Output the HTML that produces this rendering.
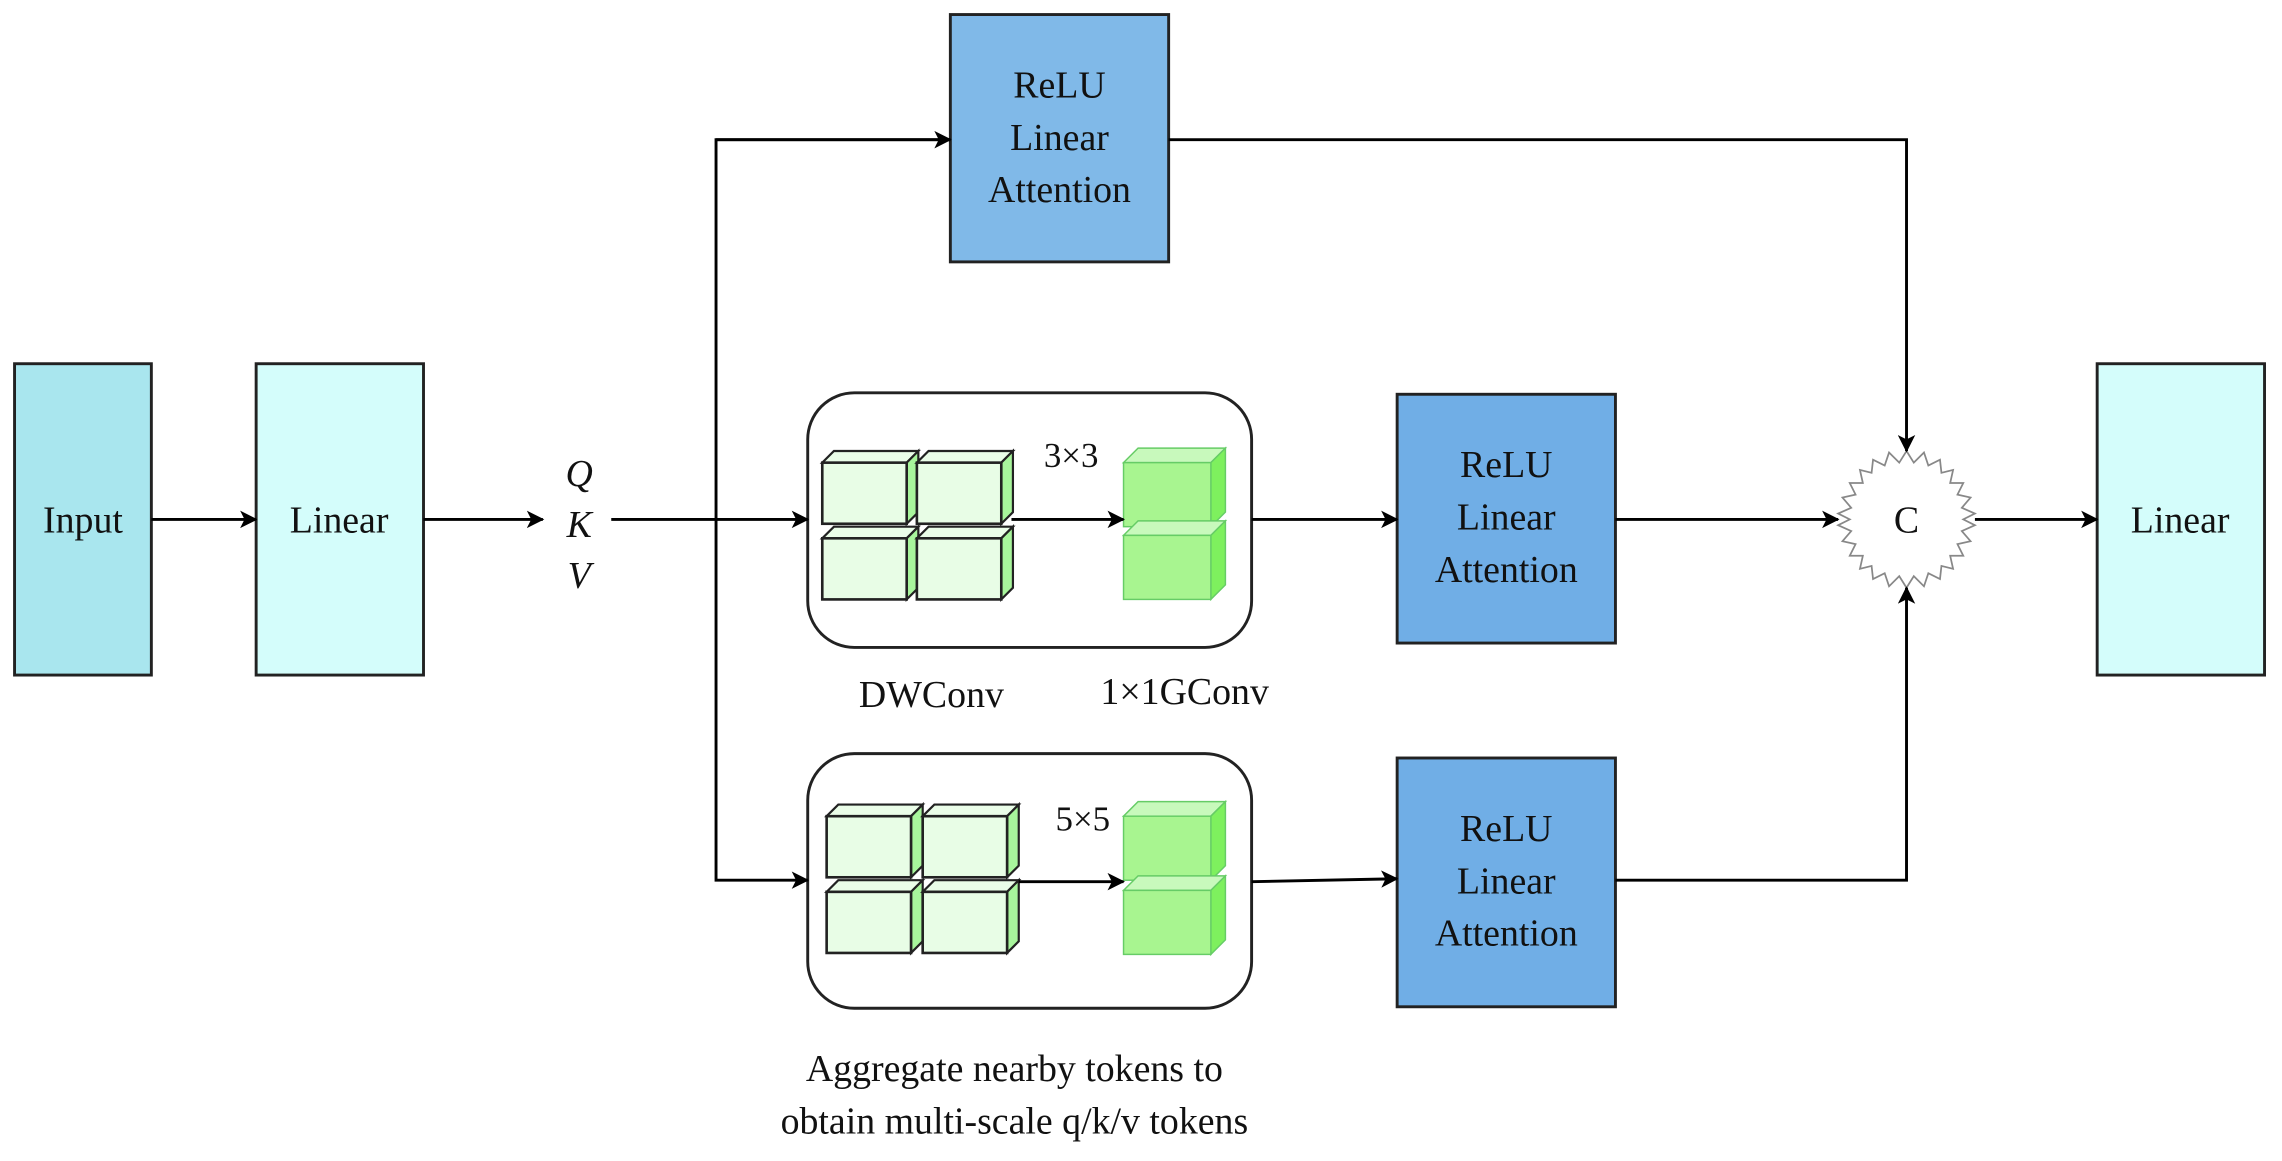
<!DOCTYPE html>
<html><head><meta charset="utf-8"><style>html,body{margin:0;padding:0;background:#fff}svg{display:block}</style></head>
<body>
<svg width="2282" height="1161" viewBox="0 0 1568 798" preserveAspectRatio="none" xmlns="http://www.w3.org/2000/svg" font-family="Liberation Serif, serif">
<defs>
<marker id="a" markerWidth="12" markerHeight="12" refX="11" refY="6" orient="auto" markerUnits="userSpaceOnUse"><path d="M0,0 L12,6 L0,12 L3,6 Z" fill="#000"/></marker>
<g id="lc">
<path d="M0,8 L8,0 L66,0 L58,8 Z" fill="#eafde8" stroke="#222" stroke-width="1.5"/>
<path d="M58,8 L66,0 L66,42 L58,50 Z" fill="#a8f59c" stroke="#222" stroke-width="1.5"/>
<rect x="0" y="8" width="58" height="42" fill="#e8fde6" stroke="#222" stroke-width="1.8"/>
</g>
<g id="gc">
<path d="M0,10 L10,0 L70,0 L60,10 Z" fill="#c8f9bc" stroke="#6c6" stroke-width="1"/>
<path d="M60,10 L70,0 L70,44 L60,54 Z" fill="#7ef05e" stroke="#6c6" stroke-width="1"/>
<rect x="0" y="10" width="60" height="44" fill="#a8f590" stroke="#6c6" stroke-width="1"/>
</g>
</defs>
<g stroke="#222" stroke-width="2">
<rect x="10" y="250" width="94" height="214" fill="#a9e6ee"/>
<rect x="176" y="250" width="115" height="214" fill="#d4fdfb"/>
<rect x="1441" y="250" width="115" height="214" fill="#d4fdfb"/>
<rect x="653" y="10" width="150" height="170" fill="#80b9e8"/>
<rect x="960" y="271" width="150" height="171" fill="#70aee6"/>
<rect x="960" y="521" width="150" height="171" fill="#70aee6"/>
<rect x="555" y="270" width="305" height="175" rx="32" fill="#fff"/>
<rect x="555" y="518" width="305" height="175" rx="32" fill="#fff"/>
</g>
<polygon fill="#fff" stroke="#888" stroke-width="1.2" points="
1310,310 1315,318 1322,311 1325,320 1333,316 1334,325 1342,323 1340,332 1349,332 1345,340 1354,342 1348,349 1357,353 1349,357 1357,361 1348,365 1354,372 1345,374 1349,382 1340,382 1342,391 1334,389 1333,398 1325,394 1322,403 1315,396 1310,404 1305,396 1298,403 1295,394 1287,398 1286,389 1278,391 1280,382 1271,382 1275,374 1266,372 1272,365 1263,361 1271,357 1263,353 1272,349 1266,342 1275,340 1271,332 1280,332 1278,323 1286,325 1287,316 1295,320 1298,311 1305,318"/>
<g font-size="26" text-anchor="middle" fill="#111">
<text x="57" y="366">Input</text>
<text x="233" y="366">Linear</text>
<text x="1498" y="366">Linear</text>
<text x="728" y="67">ReLU</text><text x="728" y="103">Linear</text><text x="728" y="139">Attention</text>
<text x="1035" y="328">ReLU</text><text x="1035" y="364">Linear</text><text x="1035" y="400">Attention</text>
<text x="1035" y="578">ReLU</text><text x="1035" y="614">Linear</text><text x="1035" y="650">Attention</text>
<text x="398" y="334" font-style="italic">Q</text>
<text x="398" y="369" font-style="italic">K</text>
<text x="398" y="404" font-style="italic">V</text>
<text x="640" y="486">DWConv</text>
<text x="814" y="484">1×1GConv</text>
<text x="736" y="321" font-size="24">3×3</text>
<text x="744" y="571" font-size="24">5×5</text>
<text x="697" y="743">Aggregate nearby tokens to</text>
<text x="697" y="779">obtain multi-scale q/k/v tokens</text>
<text x="1310" y="366">C</text>
</g>
<use href="#lc" x="565" y="310"/><use href="#lc" x="630" y="310"/>
<use href="#lc" x="565" y="362"/><use href="#lc" x="630" y="362"/>
<use href="#gc" x="772" y="308"/><use href="#gc" x="772" y="358"/>
<use href="#lc" x="568" y="553"/><use href="#lc" x="634" y="553"/>
<use href="#lc" x="568" y="605"/><use href="#lc" x="634" y="605"/>
<use href="#gc" x="772" y="551"/><use href="#gc" x="772" y="602"/>
<g stroke="#000" stroke-width="2" fill="none">
<line x1="104" y1="357" x2="176" y2="357" marker-end="url(#a)"/>
<line x1="291" y1="357" x2="373" y2="357" marker-end="url(#a)"/>
<line x1="420" y1="357" x2="555" y2="357" marker-end="url(#a)"/>
<polyline points="653,96 492,96 492,605 555,605" marker-end="url(#a)"/>
<line x1="492" y1="96" x2="653" y2="96" marker-end="url(#a)"/>
<line x1="695" y1="357" x2="772" y2="357" marker-end="url(#a)"/>
<line x1="700" y1="606" x2="772" y2="606" marker-end="url(#a)"/>
<line x1="860" y1="357" x2="960" y2="357" marker-end="url(#a)"/>
<line x1="860" y1="606" x2="960" y2="604" marker-end="url(#a)"/>
<line x1="1110" y1="357" x2="1263" y2="357" marker-end="url(#a)"/>
<polyline points="803,96 1310,96 1310,310" marker-end="url(#a)"/>
<polyline points="1110,605 1310,605 1310,404" marker-end="url(#a)"/>
<line x1="1357" y1="357" x2="1441" y2="357" marker-end="url(#a)"/>
</g>
</svg>
</body></html>
